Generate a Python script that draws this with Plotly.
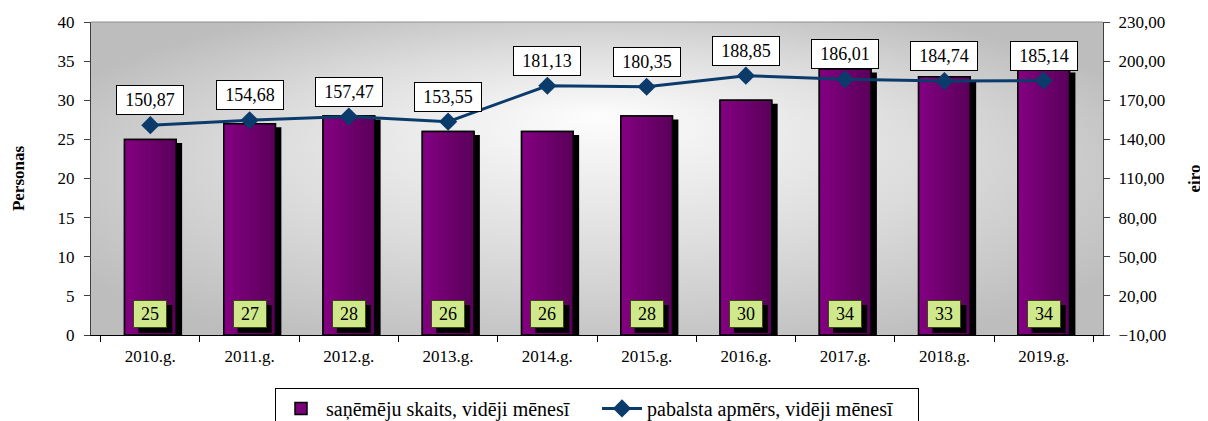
import base64
import plotly.graph_objects as go

years = ["2010.g.", "2011.g.", "2012.g.", "2013.g.", "2014.g.", "2015.g.", "2016.g.", "2017.g.", "2018.g.", "2019.g."]
recipients = [25, 27, 28, 26, 26, 28, 30, 34, 33, 34]
benefit = [150.87, 154.68, 157.47, 153.55, 181.13, 180.35, 188.85, 186.01, 184.74, 185.14]

bar_name = "saņēmēju skaits, vidēji mēnesī"
line_name = "pabalsta apmērs, vidēji mēnesī"

BW = 0.52
FONT = "Liberation Serif"

fig = go.Figure()

# shadow bars
fig.add_trace(go.Bar(x=years, y=[v - 0.45 for v in recipients], width=BW, offset=-BW / 2 + 0.06,
                     marker=dict(color="black", line=dict(width=0)), showlegend=False, hoverinfo="skip"))
# main bar (legend)
fig.add_trace(go.Bar(x=years, y=recipients, width=BW, offset=-BW / 2, name=bar_name,
                     marker=dict(color="#7a007a", line=dict(color="black", width=1.5))))
# gradient strips
N = 10
c0 = (0x82, 0x00, 0x80)
c1 = (0x5c, 0x00, 0x5c)
for i in range(N):
    t = i / (N - 1)
    c = tuple(round(c0[k] + (c1[k] - c0[k]) * t) for k in range(3))
    fig.add_trace(go.Bar(x=years, y=recipients, width=BW / N + 0.003, offset=-BW / 2 + i * BW / N,
                         marker=dict(color="rgb(%d,%d,%d)" % c, line=dict(width=0)),
                         showlegend=False, hoverinfo="skip"))
# outline
fig.add_trace(go.Bar(x=years, y=recipients, width=BW, offset=-BW / 2,
                     marker=dict(color="rgba(0,0,0,0)", line=dict(color="black", width=1.5)),
                     showlegend=False, hoverinfo="skip"))

# line on secondary axis
fig.add_trace(go.Scatter(x=years, y=benefit, yaxis="y2", name=line_name, mode="lines+markers",
                         line=dict(color="#0b3b6b", width=3),
                         marker=dict(symbol="diamond", size=14, color="#0b3b6b")))

annotations = []
shapes = [dict(type="line", xref="paper", yref="paper", x0=0, x1=1, y0=1, y1=1,
               line=dict(color="#909090", width=1))]
for yr, v in zip(years, benefit):
    annotations.append(dict(x=yr, y=v, xref="x", yref="y2", text=f"{v:.2f}".replace(".", ","),
                            showarrow=False, yshift=25, bgcolor="white", bordercolor="black",
                            borderwidth=1, borderpad=5, width=56, height=18,
                            font=dict(family=FONT, size=18, color="black")))
for i, (yr, v) in enumerate(zip(years, recipients)):
    shapes.append(dict(type="rect", xref="x", yref="paper", xsizemode="pixel", ysizemode="pixel",
                       xanchor=i, yanchor=0, x0=-12, x1=22, y0=2, y1=30,
                       fillcolor="black", line=dict(width=0), layer="above"))
    annotations.append(dict(x=yr, y=0, xref="x", yref="paper", text=str(v), showarrow=False,
                            yshift=21, yanchor="middle", bgcolor="#cfe88c",
                            bordercolor="#3a4a10", borderwidth=1, borderpad=2, width=28, height=22,
                            font=dict(family=FONT, size=18, color="black")))

svg = ('<svg xmlns="http://www.w3.org/2000/svg" width="1000" height="300" preserveAspectRatio="none">'
       '<defs><radialGradient id="g" cx="0.5" cy="0.5" r="0.6" fx="0.5" fy="0.3">'
       '<stop offset="0" stop-color="#fdfdfd"/><stop offset="0.55" stop-color="#dcdcdc"/>'
       '<stop offset="1" stop-color="#bdbdbd"/></radialGradient></defs>'
       '<rect width="1000" height="300" fill="url(#g)"/></svg>')
src = "data:image/svg+xml;base64," + base64.b64encode(svg.encode()).decode()

fig.update_layout(
    width=1200, height=413,
    margin=dict(l=83, r=105, t=14, b=86, autoexpand=False),
    paper_bgcolor="white", plot_bgcolor="#d4d4d4",
    barmode="overlay",
    separators=", ",
    font=dict(family=FONT, size=17, color="black"),
    images=[dict(source=src, xref="paper", yref="paper", x=0, y=1, sizex=1, sizey=1,
                 sizing="stretch", layer="below")],
    xaxis=dict(type="category", tickson="boundaries", ticks="outside", ticklen=6,
               tickcolor="black", showline=True, linecolor="black", linewidth=1,
               showgrid=False, tickfont=dict(family=FONT, size=17), automargin=False,
               ticklabelstandoff=6),
    yaxis=dict(range=[0, 40], dtick=5, ticks="outside", ticklen=6, tickcolor="#404040",
               showline=True, linecolor="#404040", linewidth=1, showgrid=False, zeroline=False,
               tickfont=dict(family=FONT, size=17), automargin=False, ticklabelstandoff=6,
               title=dict(text="<b>Personas</b>", standoff=28, font=dict(family=FONT, size=17))),
    yaxis2=dict(range=[-10, 230], dtick=30, tick0=-10, overlaying="y", side="right",
                tickformat=".2f", ticks="outside", ticklen=6, tickcolor="#404040",
                showline=True, linecolor="#404040", linewidth=1, showgrid=False, zeroline=False,
                tickfont=dict(family=FONT, size=17), automargin=False, ticklabelstandoff=5,
                title=dict(text="<b>eiro</b>", standoff=22, font=dict(family=FONT, size=17))),
    legend=dict(orientation="h", x=0.5, xanchor="center", y=-0.169, yanchor="top",
                bgcolor="white", bordercolor="black", borderwidth=1, itemwidth=40,
                entrywidth=266, font=dict(family=FONT, size=20), traceorder="normal"),
    annotations=annotations,
    shapes=shapes,
)

fig.write_html("out.html")
